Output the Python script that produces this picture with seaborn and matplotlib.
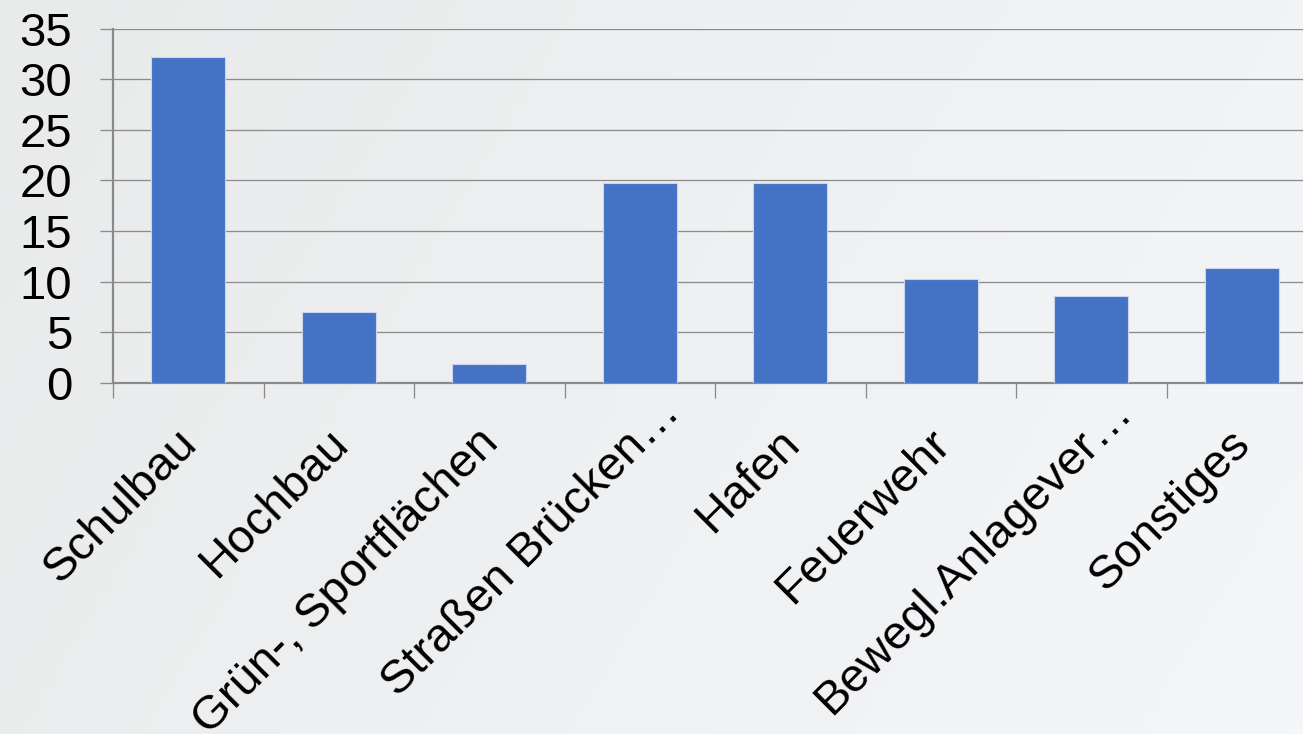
import numpy as np
import pandas as pd
import matplotlib
matplotlib.use("Agg")
import matplotlib.pyplot as plt
import seaborn as sns

categories = ["Schulbau", "Hochbau", "Grün-, Sportflächen", "Straßen Brücken…",
              "Hafen", "Feuerwehr", "Bewegl.Anlagever…", "Sonstiges"]
values = [32.2, 7.0, 1.9, 19.7, 19.7, 10.3, 8.6, 11.4]
yticks = [0, 5, 10, 15, 20, 25, 30, 35]

sns.set_theme(style="white")
plt.rcParams['font.family'] = ['Liberation Sans', 'DejaVu Sans']

W, H = 1303, 734
PX = 72 / 100  # points per pixel at dpi 100
fig = plt.figure(figsize=(W / 100, H / 100), dpi=100)

# background gradient
bg = fig.add_axes([0, 0, 1, 1], zorder=-10)
gx = np.linspace(0, 1, 256)
gy = np.linspace(0, 1, 64)
X, Y = np.meshgrid(gx, gy)
t = np.clip(0.75 * X + 0.25 * (1 - Y), 0, 1)
c0 = np.array([0.913, 0.918, 0.918])
c1 = np.array([0.957, 0.965, 0.976])
img = c0[None, None, :] * (1 - t[..., None]) + c1[None, None, :] * t[..., None]
bg.imshow(img, aspect="auto", extent=[0, 1, 0, 1], origin="lower")
bg.axis("off")

left = 113 / W
bottom = (H - 383) / H
top = (H - 28.5) / H
width = 8 * 150.5 / W
ax = fig.add_axes([left, bottom, width, top - bottom])
ax.patch.set_alpha(0)

df = pd.DataFrame({"cat": categories, "val": values})
sns.barplot(data=df, x="cat", y="val", color="#4472C4", saturation=1,
            width=0.49, edgecolor="#c9d6ee", linewidth=0.8, ax=ax, zorder=3)

ax.set_xlim(-0.5, len(categories) - 0.5)
ax.set_ylim(0, 35)
ax.set_yticks(yticks)
ax.set_yticklabels([str(v) for v in yticks], fontsize=34, color="black")
ax.yaxis.grid(True, color="#8c8c8c", linewidth=1.3 * PX, zorder=0)
ax.set_axisbelow(True)
ax.set_xlabel("")
ax.set_ylabel("")

for s in ["top", "right"]:
    ax.spines[s].set_visible(False)
for s in ["left", "bottom"]:
    ax.spines[s].set_color("#8a8a8a")
    ax.spines[s].set_linewidth(2.2 * PX)

ax.tick_params(axis="y", which="major", length=13 * PX, width=1.3 * PX, color="#8a8a8a",
               direction="out", pad=28 * PX, left=True)
ax.set_xticks(np.arange(len(categories)))
ax.set_xticklabels([])
ax.tick_params(axis="x", which="major", length=0)
ax.set_xticks(np.arange(len(categories) + 1) - 0.5, minor=True)
ax.tick_params(axis="x", which="minor", length=15 * PX, width=1.3 * PX, color="#8a8a8a",
               direction="out", bottom=True)

for i, lab in enumerate(categories):
    dx, dy = -13, -38
    if lab.endswith("…"):
        dx += 31
        dy += 31
    ax.annotate(lab, xy=(i, 0), xycoords=("data", "axes fraction"),
                xytext=(dx, dy), textcoords="offset pixels",
                rotation=45, ha="right", va="top", rotation_mode="anchor",
                fontsize=34, color="black")

fig.savefig("out.png", dpi=100)
